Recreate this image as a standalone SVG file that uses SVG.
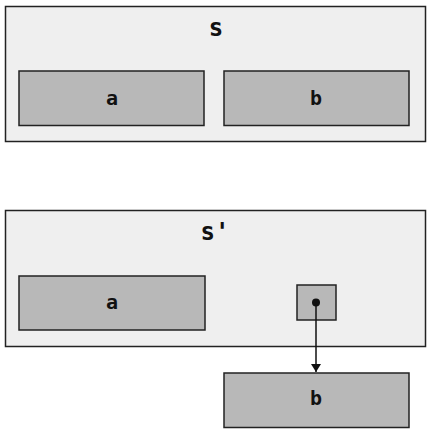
<svg xmlns="http://www.w3.org/2000/svg" width="432" height="432" viewBox="0 0 432 432">
<style>
.outer{fill:#efefef;stroke:#222;stroke-width:1.5}
.inner{fill:#b8b8b8;stroke:#222;stroke-width:1.5}
.lbl{font-family:"DejaVu Sans Mono",monospace;font-weight:bold;font-size:20px;fill:#111;text-anchor:middle}
.big{font-size:24px}
.edge{stroke:#111;stroke-width:1.5;fill:none}
</style>
<defs>
<marker id="arr" markerWidth="10" markerHeight="12" refX="8" refY="5" orient="auto" markerUnits="userSpaceOnUse">
<path d="M0,0 L8,5 L0,10 Z" fill="#111"/>
</marker>
</defs>
<rect width="432" height="432" fill="#fff"/>
<g id="s">
<rect class="outer" x="5.5" y="6.5" width="420" height="135"/>
<text class="lbl big" x="216" y="36">s</text>
</g>
<g id="s_a">
<rect class="inner" x="19" y="71" width="185" height="54.5"/>
<text class="lbl" x="112" y="105">a</text>
</g>
<g id="s_b">
<rect class="inner" x="224" y="71" width="185" height="54.5"/>
<text class="lbl" x="316" y="105">b</text>
</g>
<g id="s2">
<rect class="outer" x="5.5" y="210.5" width="420" height="136"/>
<text class="lbl big" x="215" y="240" xml:space="preserve">s'</text>
</g>
<g id="s2_a">
<rect class="inner" x="19" y="276" width="186" height="54"/>
<text class="lbl" x="112" y="309">a</text>
</g>
<g id="s2_ptr">
<rect class="inner" x="297" y="285" width="39" height="35"/>
</g>
<g id="b2">
<rect class="inner" x="224" y="373" width="185" height="54.5"/>
<text class="lbl" x="316" y="405">b</text>
</g>
<g id="connectors">
<circle cx="316" cy="302.5" r="4" fill="#111"/>
<line class="edge" x1="316" y1="302.5" x2="316" y2="372" marker-end="url(#arr)"/>
</g>
</svg>
